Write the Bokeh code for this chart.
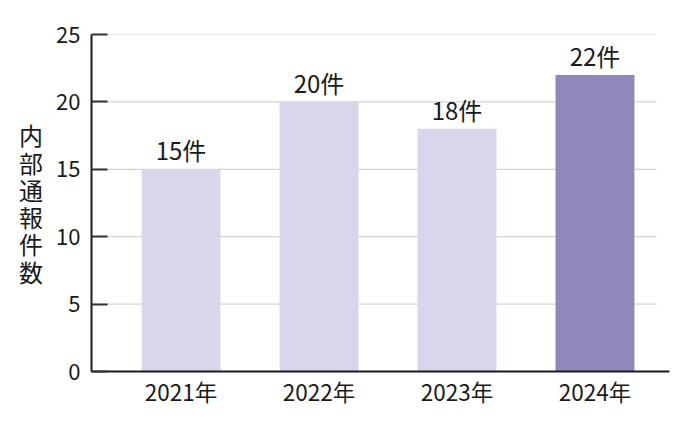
from bokeh.plotting import figure
from bokeh.models import Range1d, FixedTicker, ColumnDataSource
from bokeh.core.properties import value
from bokeh.embed import file_html
from bokeh.resources import INLINE

categories = ["2021年", "2022年", "2023年", "2024年"]
counts = [15, 20, 18, 22]
bar_labels = ["15件", "20件", "18件", "22件"]
y_ticks = [0, 5, 10, 15, 20, 25]
y_title = "内部通報件数"

FONT = "Noto Sans CJK JP"
LIGHT = "#d9d5ea"
DARK = "#8f88bb"

xs = list(range(len(categories)))
colors = [LIGHT] * (len(categories) - 1) + [DARK]

src = ColumnDataSource(dict(x=xs, top=counts, label=bar_labels, color=colors))

x_start, x_end = -0.649, len(categories) - 1 + 0.540
grid_end = len(categories) - 1 + 0.446

p = figure(width=680, height=415, output_backend="svg", toolbar_location=None,
           x_range=Range1d(x_start, x_end), y_range=Range1d(0, 25),
           min_border_left=91, min_border_right=11, min_border_top=34, min_border_bottom=44)
p.outline_line_color = None
p.xgrid.visible = False
p.ygrid.visible = False

gy = [t for t in y_ticks if t > 0]
p.segment(x0=[x_start] * len(gy), x1=[grid_end] * len(gy), y0=gy, y1=gy,
          line_color="#d4d4d4", line_width=1.2)

p.vbar(x="x", top="top", width=0.572, bottom=0, fill_color="color", line_color=None, source=src)
p.text(x="x", y="top", text="label", source=src, text_align="center", text_baseline="bottom",
       y_offset=-2, text_font=value(FONT), text_font_size="24px", text_color="#1a1a1a")

p.xaxis.ticker = FixedTicker(ticks=xs)
p.xaxis.major_label_overrides = {i: c for i, c in zip(xs, categories)}
p.xaxis.major_tick_in = 0
p.xaxis.major_tick_out = 0
p.xaxis.minor_tick_line_color = None
p.xaxis.axis_line_width = 2
p.xaxis.axis_line_color = "#1a1a1a"
p.xaxis.major_label_standoff = 3
p.xaxis.major_label_text_font = FONT
p.xaxis.major_label_text_font_size = "22.5px"
p.xaxis.major_label_text_color = "#1a1a1a"

p.yaxis.ticker = FixedTicker(ticks=y_ticks)
p.yaxis.major_tick_in = 16
p.yaxis.major_tick_out = 0
p.yaxis.major_tick_line_width = 2
p.yaxis.major_tick_line_color = "#333333"
p.yaxis.minor_tick_line_color = None
p.yaxis.axis_line_width = 2
p.yaxis.axis_line_color = "#1a1a1a"
p.yaxis.major_label_standoff = 11
p.yaxis.major_label_text_font = FONT
p.yaxis.major_label_text_font_size = "22px"
p.yaxis.major_label_text_color = "#1a1a1a"
p.yaxis.axis_label = "\n".join(y_title)
p.yaxis.axis_label_orientation = "horizontal"
p.yaxis.axis_label_text_font = FONT
p.yaxis.axis_label_text_font_style = "normal"
p.yaxis.axis_label_text_font_size = "24px"
p.yaxis.axis_label_text_line_height = 0.78
p.yaxis.axis_label_text_color = "#1a1a1a"
p.yaxis.axis_label_standoff = 10

open("out.html", "w").write(file_html(p, INLINE))
